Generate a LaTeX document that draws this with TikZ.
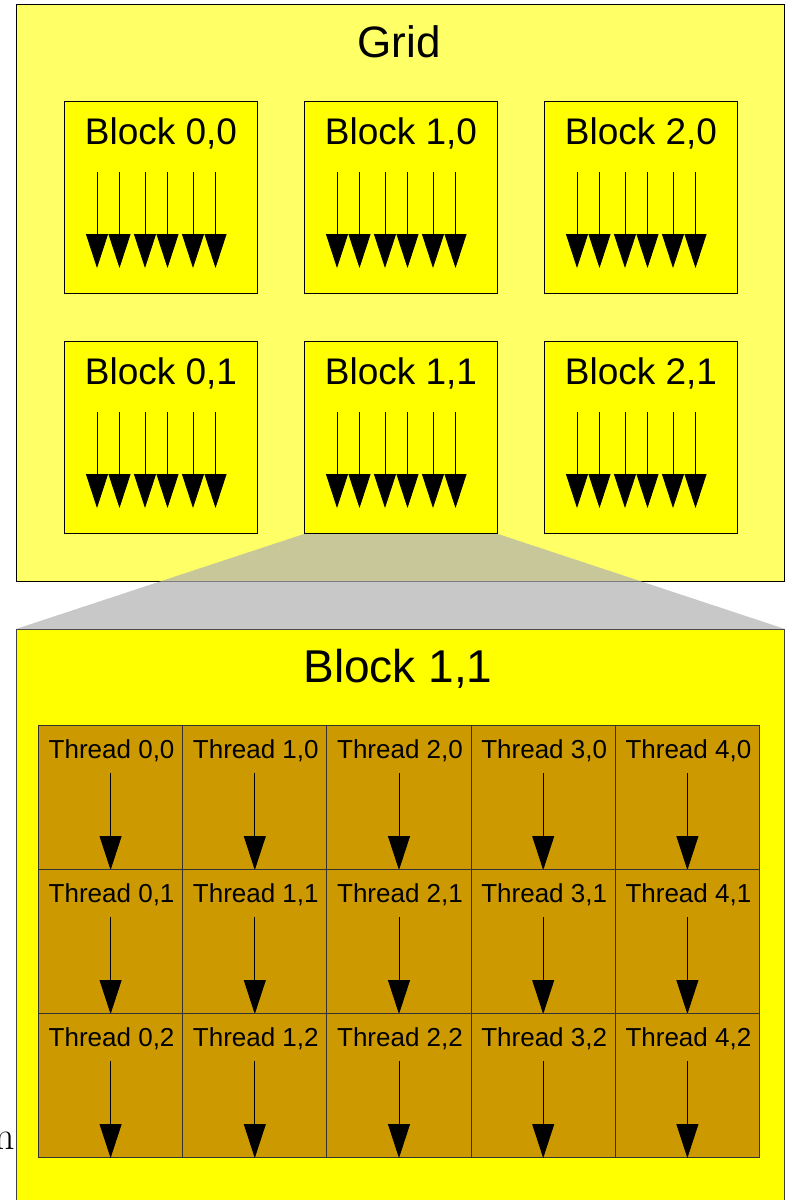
\documentclass[tikz,border=0pt]{standalone}
\usepackage{fontspec}
\setmainfont{Liberation Sans}
\newfontfamily\seriffont{Latin Modern Roman}
\usetikzlibrary{arrows.meta,calc}
\definecolor{gridfill}{RGB}{255,255,102}
\definecolor{blockfill}{RGB}{255,255,0}
\definecolor{threadfill}{RGB}{204,153,0}
\definecolor{trapfill}{RGB}{176,176,176}
\tikzset{
  gridbox/.style={draw=black, line width=1pt, fill=gridfill, anchor=north west, inner sep=0pt, minimum width=768pt, minimum height=577pt},
  blockbox/.style={draw=black, line width=1pt, fill=blockfill, anchor=north west, inner sep=0pt, minimum width=193pt, minimum height=192pt},
  bigbox/.style={draw=black!75, line width=1pt, fill=blockfill, anchor=north west, inner sep=0pt, minimum width=768pt, minimum height=600pt},
  threadbox/.style={draw=black!80, line width=1pt, fill=threadfill, anchor=north west, inner sep=0pt, minimum width=144.2pt, minimum height=144pt},
  trap/.style={fill=trapfill, fill opacity=0.7},
  arr/.style={draw=black, line width=0.8pt, -{Triangle[width=22pt,length=34pt]}},
  lbl/.style={anchor=base, inner sep=0pt, font=\fontsize{37}{40}\selectfont},
  tlbl/.style={anchor=base, inner sep=0pt, font=\fontsize{26}{28}\selectfont},
}
\begin{document}
\begin{tikzpicture}[x=1pt, y=-1pt]
\useasboundingbox (0,0) rectangle (785,1200);
\clip (0,0) rectangle (785,1200);
% grid
\node[gridbox] (grid) at (16,4) {};
\node[anchor=base, inner sep=0pt, font=\fontsize{44}{48}\selectfont] (gridlbl) at (399,57) {Grid};
% blocks
\foreach \i/\x in {0/64,1/304,2/544}{
  \foreach \j/\y in {0/101,1/341}{
    \node[blockbox] (b\i\j) at (\x,\y) {};
    \node[lbl] (bl\i\j) at ($(b\i\j.north)+(0,43)$) {Block \i,\j};
    \foreach \dx [count=\k] in {33,55.5,81,103.5,129,151.5}{
      \coordinate (bs\i\j\k) at ($(b\i\j.north west)+(\dx,71)$);
      \coordinate (be\i\j\k) at ($(b\i\j.north west)+(\dx,167)$);
      \draw[arr] (bs\i\j\k) -- (be\i\j\k);
    }
  }
}
% lower block
\node[bigbox] (big) at (16,629) {};
\node[anchor=base, inner sep=0pt, font=\fontsize{46}{50}\selectfont] (biglbl) at (398,682) {Block 1,1};
% zoom trapezoid
\fill[trap] (b11.south west) -- (b11.south east) -- (big.north east) -- (big.north west) -- cycle;
% threads
\foreach \i in {0,...,4}{
  \foreach \j in {0,1,2}{
    \node[threadbox] (t\i\j) at ({38+144.2*\i},{725+144*\j}) {};
    \node[tlbl] (tl\i\j) at ($(t\i\j.north)+(1,33)$) {Thread \i,\j};
    \coordinate (ts\i\j) at ($(t\i\j.north)+(0,48)$);
    \draw[arr] (ts\i\j) -- (t\i\j.south);
  }
}
% cut-off text at left edge (as in the reference)
\node[anchor=base east, inner sep=0pt, font=\seriffont\fontsize{40}{42}\selectfont] (cut) at (15.5,1149) {n};
\end{tikzpicture}
\end{document}
